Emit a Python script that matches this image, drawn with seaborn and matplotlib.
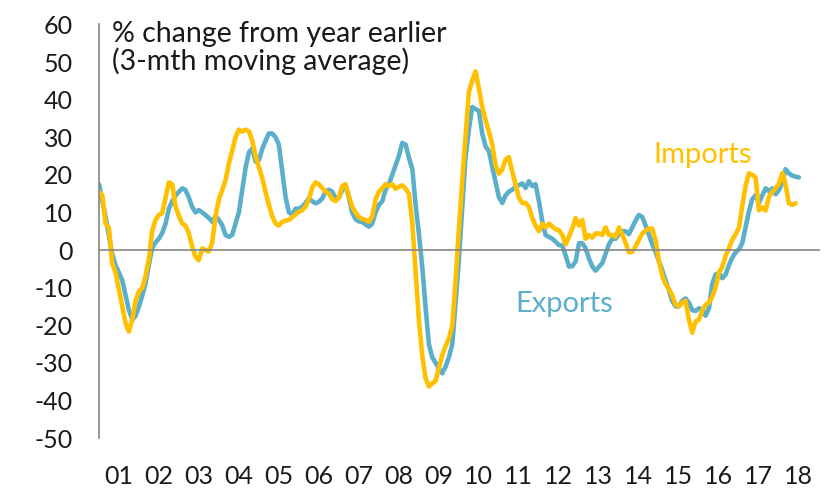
import pandas as pd
import numpy as np
import matplotlib.pyplot as plt
import matplotlib.dates as mdates
import seaborn as sns

# Monthly series, Jan 2001 onwards, % change y/y (3-mth moving average)
exports = [
    17.5, 13, 9, 4, -1, -4, -6, -8, -12, -16, -18.5, -17.5,          # 2001
    -15, -12, -9, -4, 0.5, 2, 3, 4.5, 7, 11, 13, 14.5,               # 2002
    15.5, 16.4, 16, 14, 11.5, 10, 10.6, 10, 9.3, 8.5, 7.5, 9,        # 2003
    8, 6.5, 4, 3.5, 4, 7, 10, 16, 22, 26, 27, 23.5,                  # 2004
    24, 27, 29, 31, 31, 30, 28, 21, 14, 10, 9.5, 11,                 # 2005
    11, 11.5, 12.5, 13.7, 13, 12.4, 12.8, 13.7, 15.5, 16, 15.5, 13.7,  # 2006
    14, 16, 17.3, 14, 10, 8.2, 7.6, 7.5, 6.8, 6.2, 7, 10,           # 2007
    12, 13, 16, 17.5, 20, 22.5, 25, 28.5, 28, 24.5, 21.5, 12,        # 2008
    4, -5, -15, -25, -28.5, -30, -31.5, -32.8, -31, -28.5, -25, -14,  # 2009
    -2, 12, 24.5, 32, 38, 37.5, 37, 31, 27.5, 26.3, 22, 18,          # 2010
    14, 12.5, 14.5, 15.5, 16, 16.8, 17.2, 17.7, 16.5, 18.3, 17, 17.5,  # 2011
    13, 7.5, 4, 3.5, 3, 2.2, 1.3, 1.2, -1.5, -4.4, -4.3, -3,         # 2012
    1.8, 1.8, 0.5, -2.2, -4.3, -5.5, -4.5, -3.5, -1, 1.5, 3, 3,      # 2013
    4.2, 5, 5, 4.2, 6, 7.8, 9.3, 8.8, 6.5, 4, 1.5, -0.5,             # 2014
    -3, -5.5, -8, -10.6, -13.5, -15, -15, -13.5, -12.9, -14, -16, -16.2,  # 2015
    -15.5, -15.8, -17.5, -15.5, -9, -6.5, -6.2, -7.5, -6.5, -4, -2, -0.6,  # 2016
    0.2, 2, 6, 10.2, 13.5, 14.6, 12.5, 14.5, 16.4, 15.6, 16.4, 14.8,  # 2017
    16, 18, 21.5, 20.4, 19.8, 19.5, 19.3,                             # 2018
]
imports = [
    15.5, 14.5, 7, 6, -3.5, -6, -10.5, -15, -19.5, -21.7, -18.5, -13.5,  # 2001
    -11, -10, -7, -2.5, 5, 8, 9.3, 9.8, 14, 18, 17.5, 11.5,          # 2002
    9, 7, 6.5, 4.5, 1, -1.8, -2.7, 0.4, 0, -0.4, 2, 9,               # 2003
    13.5, 16, 18.5, 23, 26.5, 30, 32, 31.5, 32, 31.5, 29, 25,        # 2004
    22, 19, 15.5, 12, 9, 7, 6.5, 7.5, 7.8, 8, 8.7, 9.5,              # 2005
    10.2, 10.6, 11.5, 13.5, 16.5, 18, 17.5, 16.5, 15.5, 15, 13.5, 13,  # 2006
    14, 17, 17.5, 14.5, 11.5, 10, 8.8, 8.3, 8, 7.5, 9, 13.5,         # 2007
    15.5, 16.5, 17.5, 17, 17.5, 16.3, 16.8, 17.2, 16.3, 15, 7, -6,   # 2008
    -19, -28.5, -34, -36.3, -35.5, -34.8, -31.5, -28, -25.5, -23.5, -20, -8,  # 2009
    6, 19, 30, 42, 45, 47.5, 43, 38, 34.5, 31.5, 28, 22.5,           # 2010
    20.3, 21.5, 24, 24.7, 21, 17.5, 14, 12.5, 12.5, 11.5, 8.5, 6.5,  # 2011
    5, 7, 6, 7, 6.3, 5.5, 5.3, 4, 1.5, 3.5, 5.8, 8.5,                # 2012
    6.5, 8, 3, 4, 3.3, 4.4, 4.4, 4, 6, 4, 4, 3.5,                    # 2013
    6, 4, 2, -0.6, -0.5, 0.9, 2.7, 4.3, 5.2, 5.7, 5.7, 2.5,          # 2014
    -3, -7, -9, -10.4, -12, -14.5, -15, -14, -13.5, -18.5, -22, -19,  # 2015
    -18.5, -16, -14.6, -14, -12.4, -10, -6, -4.5, -1.5, 0.5, 2.8, 4.2,  # 2016
    6, 12, 17, 20.4, 20, 19.3, 10.6, 11.3, 10.5, 14.2, 15.5, 16.4,   # 2017
    17.7, 20.5, 17.5, 12.4, 12, 12.4,                                 # 2018
]

BLUE = '#5BAFCB'
GOLD = '#FFC000'

df = pd.concat([
    pd.DataFrame({'date': pd.date_range('2001-01-01', periods=len(exports), freq='MS'),
                  'value': exports, 'series': 'Exports'}),
    pd.DataFrame({'date': pd.date_range('2001-01-01', periods=len(imports), freq='MS'),
                  'value': imports, 'series': 'Imports'}),
])

sns.set_style('white')
plt.rcParams['font.family'] = ['Lato', 'DejaVu Sans']
plt.rcParams['axes.unicode_minus'] = False

fig = plt.figure(figsize=(8.31, 4.93), dpi=100)
ax = fig.add_axes([99 / 831, 1 - 438 / 493, 720 / 831, (438 - 24.4) / 493])

sns.lineplot(data=df, x='date', y='value', hue='series',
             palette={'Exports': BLUE, 'Imports': GOLD},
             hue_order=['Exports', 'Imports'],
             linewidth=3.3, legend=False, ax=ax)

ax.set_xlim(pd.Timestamp('2001-01-01'), pd.Timestamp('2019-01-01'))
ax.set_ylim(-50, 60)
ax.set_yticks(range(-50, 61, 10))
ax.set_xlabel('')
ax.set_ylabel('')

for s in ['top', 'right']:
    ax.spines[s].set_visible(False)
for s in ['left', 'bottom']:
    ax.spines[s].set_color('#868686')
    ax.spines[s].set_linewidth(1.2)
ax.spines['bottom'].set_position(('data', 0))

# year boundaries as ticks on the zero line, labels centred on each year
ax.xaxis.set_major_locator(mdates.YearLocator())
ax.xaxis.set_major_formatter(plt.NullFormatter())
ax.xaxis.set_minor_locator(mdates.MonthLocator(bymonth=7))
ax.xaxis.set_minor_formatter(mdates.DateFormatter('%y'))
ax.tick_params(axis='x', which='major', direction='out', length=7, width=1.2, color='#868686')
ax.tick_params(axis='x', which='minor', length=0, pad=155, labelsize=18, labelcolor='#1a1a1a')
ax.tick_params(axis='y', direction='out', length=7, width=1.2, color='#868686',
               pad=12, labelsize=18, labelcolor='#1a1a1a')

ax.text(0.0176, 0.958, '% change from year earlier', transform=ax.transAxes,
        fontsize=20.5, color='#1a1a1a', va='baseline', ha='left')
ax.text(0.0176, 0.8897, '(3-mth moving average)', transform=ax.transAxes,
        fontsize=20.5, color='#1a1a1a', va='baseline', ha='left')
ax.text(0.7694, 0.664, 'Imports', transform=ax.transAxes,
        fontsize=21, color=GOLD, va='baseline', ha='left')
ax.text(0.5778, 0.305, 'Exports', transform=ax.transAxes,
        fontsize=21, color=BLUE, va='baseline', ha='left')

fig.savefig('out.png', dpi=100)
